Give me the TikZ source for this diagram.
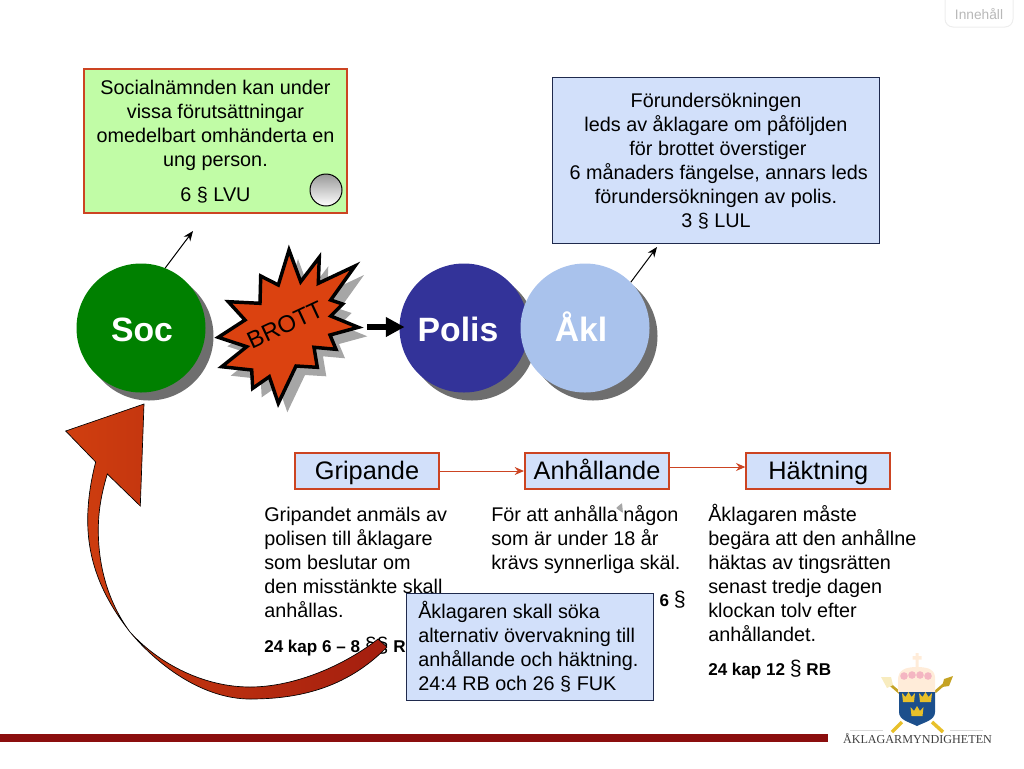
\documentclass[tikz,border=0pt]{standalone}
\usepackage{fontspec}
\setmainfont{Liberation Sans}
\newfontfamily\logofont{Liberation Serif}
\usetikzlibrary{positioning, arrows.meta, shadings}
\definecolor{redline}{HTML}{CC4422}
\definecolor{paleblue}{HTML}{D2E0FA}
\definecolor{palegreen}{HTML}{C1FCA6}
\definecolor{darkframe}{HTML}{1F2A4D}
\definecolor{socgreen}{HTML}{008000}
\definecolor{polisblue}{HTML}{333399}
\definecolor{aklblue}{HTML}{A9C2EC}
\definecolor{shadowgrey}{HTML}{6E6E6E}
\definecolor{stargrey}{HTML}{A6A6A6}
\definecolor{starred}{HTML}{DB4210}
\definecolor{barred}{HTML}{8B0E0E}
\definecolor{shieldblue}{HTML}{1C4F8C}
\definecolor{crowngold}{HTML}{E8C02A}
\newcommand{\bodysize}{\fontsize{14.85}{18}\selectfont}
\newcommand{\refsize}{\fontsize{12.8}{14}\selectfont\bfseries}
\newcommand{\parasign}{{\fontsize{16}{14}\selectfont\mdseries\S}}
\newcommand{\topline}{\vphantom{Å}}
\begin{document}
\begin{tikzpicture}[x=0.75pt,y=-0.75pt,
    person/.style={circle,minimum size=96.75pt,inner sep=0pt,
        preaction={fill=shadowgrey,transform canvas={shift={(6pt,-6pt)}}}},
    persontext/.style={anchor=base,inner sep=0pt,text=white,font=\fontsize{25.3}{25}\selectfont\bfseries},
    heading/.style={draw=redline,line width=1.5pt,fill=paleblue,minimum width=108pt,
        minimum height=26.5pt,inner sep=0pt,text height=15.2pt,text depth=2.8pt,
        font=\fontsize{19}{20}\selectfont},
    infobox/.style={draw=darkframe,line width=0.75pt,fill=paleblue,inner sep=0pt,font=\bodysize},
    bodytext/.style={anchor=north west,align=left,inner sep=0pt,font=\bodysize},
    reftext/.style={anchor=west,inner sep=0pt,font=\refsize},
    thinarrow/.style={-{Stealth[length=7.5pt,width=6pt]},line width=0.75pt},
    redarrow/.style={-{Stealth[length=7pt,width=6pt]},draw=redline,line width=0.75pt}]
    \useasboundingbox (0,0) rectangle (1024,768);

    % button
    \draw[draw=black!7,rounded corners=6pt,line width=0.75pt] (945,-8) rectangle (1013,27);
    \node[text=black!28,font=\fontsize{10.3}{12}\selectfont] (menu) at (979,14) {Innehåll};

    % boxes at the top
    \node[draw=redline,line width=1.5pt,fill=palegreen,minimum width=197pt,minimum height=108pt,
        inner sep=0pt] (lvu) at (215.5,141) {};
    \node[align=center,inner sep=0pt,font=\bodysize,anchor=north] (lvutext) at (215.5,77)
        {\topline Socialnämnden kan under\\vissa förutsättningar\\omedelbart omhänderta en\\ung person.\\[8pt]6 \S\ LVU};
    \node[circle,draw=black,line width=0.75pt,top color=black!40,bottom color=white,
        minimum size=24pt,inner sep=0pt] (lvubutton) at (326,190) {};
    \node[infobox,minimum width=245.25pt,minimum height=124.5pt] (lul) at (715.5,160) {};
    \node[align=center,inner sep=0pt,font=\bodysize,anchor=north] (lultext) at (716,90)
        {\topline Förundersökningen\\leds av åklagare om påföljden\\\hspace*{3pt}för brottet överstiger\\\hspace*{4pt}6 månaders fängelse, annars leds\\förundersökningen av polis.\\3 \S\ LUL};

    % persons
    \node[person,fill=socgreen] (soc) at (141,328) {};
    \node[person,fill=polisblue] (polis) at (464,328) {};
    \node[person,fill=aklblue] (akl) at (585,328) {};
    \node[persontext] (soctext) at (142,341) {Soc};
    \node[persontext] (polistext) at (458,341.5) {Polis};
    \node[persontext] (akltext) at (581,341.5) {Åkl};

    \coordinate (lvuend) at (193,231);
    \coordinate (lulend) at (657,247);
    \draw[thinarrow] (soc.68) -- (lvuend);
    \draw[thinarrow] (akl.45) -- (lulend);

    % star
    \fill[stargrey,shift={(9,9)}] (289,250) -- (300.7,281.7) -- (319.3,257.3) -- (318.3,283.3)
        -- (355,266) -- (330.7,300) -- (342.7,304) -- (330.7,316) -- (358.3,327.3) -- (330,335)
        -- (336,349.3) -- (314,347.3) -- (317.3,367.3) -- (296,366) -- (278.3,403.3) -- (269.3,376.7)
        -- (252.7,388.3) -- (251.7,370) -- (221.7,366.7) -- (246.7,346.7) -- (218.3,337.3)
        -- (245,320) -- (228.3,301.7) -- (260,303.3) -- (260.7,276) -- (278.3,285) -- cycle;
    \draw[fill=starred,line width=2.6pt,line join=miter] (289,250) -- (300.7,281.7) -- (319.3,257.3) -- (318.3,283.3)
        -- (355,266) -- (330.7,300) -- (342.7,304) -- (330.7,316) -- (358.3,327.3) -- (330,335)
        -- (336,349.3) -- (314,347.3) -- (317.3,367.3) -- (296,366) -- (278.3,403.3) -- (269.3,376.7)
        -- (252.7,388.3) -- (251.7,370) -- (221.7,366.7) -- (246.7,346.7) -- (218.3,337.3)
        -- (245,320) -- (228.3,301.7) -- (260,303.3) -- (260.7,276) -- (278.3,285) -- cycle;
    \node[rotate=25,font=\fontsize{17.9}{20}\selectfont] (brott) at (285,325) {BROTT};
    \coordinate (brottend) at (367,327);
    \draw[-{Triangle[length=14pt,width=14pt]},line width=5pt,shorten >=-4pt] (brottend) -- (polis.west |- brottend);

    % headings
    \node[heading] (gripande) at (367,471) {Gripande};
    \node[heading,right=172.5pt of gripande.center,anchor=center] (anhallande) {Anhållande};
    \node[heading,right=166pt of anhallande.center,anchor=center] (haktning) {Häktning};
    \draw[redarrow] (gripande) -- (anhallande);
    \draw[redarrow] (anhallande.east |- 0,467) -- (haktning.west |- 0,467);

    % texts below
    \node[bodytext] (griptext) at (264,504) {\topline Gripandet anmäls av\\polisen till åklagare\\som beslutar om\\den misstänkte skall\\anhållas.};
    \node[bodytext] (anhtext) at (491,504) {\topline För att anhålla någon\\som är under 18 år\\krävs synnerliga skäl.};
    \node[bodytext] (haktext) at (708,504) {\topline Åklagaren måste\\begära att den anhållne\\häktas av tingsrätten\\senast tredje dagen\\klockan tolv efter\\anhållandet.};
    \node[reftext] (gripref) at (264,647) {24 kap 6 – 8 \parasign\parasign\ RB};
    \node[reftext,anchor=east] (anhref) at (686,600) {23 \S\ LVU och 24:1 RB 6 \parasign};
    \node[reftext] (hakref) at (708,670) {24 kap 12 \parasign\ RB};
    \fill[stargrey,rounded corners=0.5pt] (616,508) -- (622,503) -- (623,513) -- cycle;

    % big arrow
    \draw[line width=0.5pt,left color=starred!95!black,right color=barred!70!starred]
        (387,647) .. controls (345,690) and (295,699) .. (250,699)
        .. controls (205,699) and (160,668) .. (130,632)
        .. controls (105,600) and (87.7,565) .. (87.7,520)
        .. controls (87.7,500) and (91,480) .. (95.7,462)
        -- (65.7,431) -- (144,404) -- (140.3,506) -- (107.3,474)
        .. controls (101,495) and (98.3,512) .. (98.3,530)
        .. controls (98.3,570) and (110,605) .. (130,632)
        .. controls (160,665) and (205,687) .. (250,687)
        .. controls (295,687) and (345,665) .. (378,639) -- cycle;

    \node[infobox,minimum width=185pt,minimum height=80.5pt] (fuk) at (530,647) {};
    \node[bodytext] (fuktext) at (418,601) {\topline Åklagaren skall söka\\alternativ övervakning till\\anhållande och häktning.\\24:4 RB och 26 \S\ FUK};

    % bar and logo
    \fill[barred] (0,734) rectangle (828,742);
    \draw[crowngold,line width=2.6pt] (892,732) -- (902,722);
    \draw[crowngold,line width=2.6pt] (943,732) -- (932,722);
    \draw[crowngold!85!black,line width=2pt] (900,693) -- (886,681);
    \draw[crowngold!85!black,line width=2pt] (935,692) -- (949,680);
    \fill[crowngold!30] (881,677) -- (891,677) -- (893,685) -- (887,688) -- cycle;
    \fill[crowngold!85!black] (953,676) -- (944,679) -- (942,687) -- (949,686) -- cycle;
    \fill[orange!15] (898,692) -- (898,680) .. controls (898,670) and (905,667) .. (917,667)
        .. controls (929,667) and (936,670) .. (935,680) -- (935,692) -- cycle;
    \fill[pink!70!purple!60] (904,676) circle (3.8) (912,675) circle (3.8) (920,675) circle (3.8) (928,676) circle (3.8);
    \fill[orange!15] (915.5,653) rectangle (918.5,668) (912.5,656) rectangle (921.5,659.5);
    \fill[shieldblue] (899,692) -- (935,692) -- (935,712) .. controls (935,720) and (925,722) .. (917,726)
        .. controls (909,722) and (899,720) .. (899,712) -- cycle;
    \foreach \cx/\cy in {908.5/698, 925.5/698, 917/712} {
        \fill[crowngold] (\cx-6.5,\cy-5) -- (\cx-3,\cy-1) -- (\cx,\cy-6) -- (\cx+3,\cy-1) -- (\cx+6.5,\cy-5)
            -- (\cx+5.5,\cy+4) -- (\cx-5.5,\cy+4) -- cycle;
    }
    \draw[black!15,line width=0.4pt] (850,730) -- (883,730) (950,730) -- (983,730);
    \node[text=black!75,font=\logofont\fontsize{9.1}{10}\selectfont] (logotext) at (917.5,739) {ÅKLAGARMYNDIGHETEN};
\end{tikzpicture}
\end{document}
